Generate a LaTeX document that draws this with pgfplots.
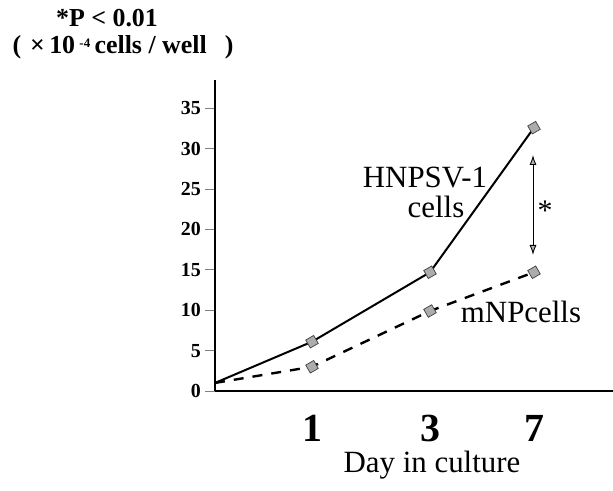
\documentclass[border=0pt]{standalone}
\usepackage{pgfplots}
\pgfplotsset{compat=1.18}
\usepackage{fontspec}
\setmainfont{Liberation Serif}
\usetikzlibrary{arrows.meta}

\begin{document}
\begin{tikzpicture}[x=1bp,y=1bp]
\useasboundingbox (-215bp,-100bp) rectangle (398bp,391bp);
\begin{axis}[
  scale only axis,
  width=398bp, height=311bp,
  at={(0,0)}, anchor=south west,
  xmin=0, xmax=398,
  ymin=0, ymax=38.5,
  axis lines*=left,
  axis line style={line width=1.1bp},
  xtick={97,215,319},
  xticklabels={1,3,7},
  x tick style={draw=none},
  x tick label style={font=\fontsize{40}{40}\selectfont\bfseries, inner sep=0pt, yshift=-14bp},
  ytick={0,5,10,15,20,25,30,35},
  y tick style={line width=0.9bp},
  tick align=outside,
  major tick length=10bp,
  y tick label style={font=\fontsize{20}{20}\selectfont\bfseries, inner sep=4bp},
  /pgf/number format/assume math mode=true,
  clip=false,
]
% HNPSV-1 cells
\addplot[black, line width=2bp, mark=square*, mark size=4.6bp,
  mark options={solid, rotate=30, fill=gray!65, draw=black!75, line width=0.7bp},
  mark indices={2,3,4}]
  coordinates {(0,1.0) (97,6.1) (215,14.7) (319,32.6)};
% mNP cells
\addplot[black, line width=2.4bp, dash pattern=on 10bp off 9bp, mark=square*, mark size=4.6bp,
  mark options={solid, rotate=30, fill=gray!65, draw=black!75, line width=0.7bp},
  mark indices={2,3,4}]
  coordinates {(0,1.0) (97,3.0) (215,9.9) (319,14.7)};
\end{axis}

% significance bracket
\draw[line width=0.9bp, {Latex[length=10bp,width=7bp,fill=gray!60]}-{Latex[length=10bp,width=7bp,fill=gray!60]}]
  (318bp,236bp) -- (318bp,136bp);
\node[font=\fontsize{30}{30}\selectfont, anchor=center] at (330bp,180bp) {*};

% series labels
\node[font=\fontsize{31}{31}\selectfont, anchor=base] at (210bp,203bp) {HNPSV-1};
\node[font=\fontsize{31}{31}\selectfont, anchor=base] at (221bp,173bp) {cells};
\node[font=\fontsize{31}{31}\selectfont, anchor=base] at (306bp,68bp) {mNPcells};

% axis title and unit
\node[font=\fontsize{31}{31}\selectfont, anchor=base] at (217bp,-81bp) {Day in culture};
\node[font=\fontsize{26}{26}\selectfont\bfseries, anchor=base] at (-108bp,364bp) {*P < 0.01};
\node[font=\fontsize{26}{26}\selectfont\bfseries, anchor=base] at (-92bp,337bp)
  {(\hspace{9bp}×\,10\,\raisebox{6bp}{\fontsize{13}{13}\selectfont -4}\,cells / well\hspace{18bp})};
\end{tikzpicture}
\end{document}
